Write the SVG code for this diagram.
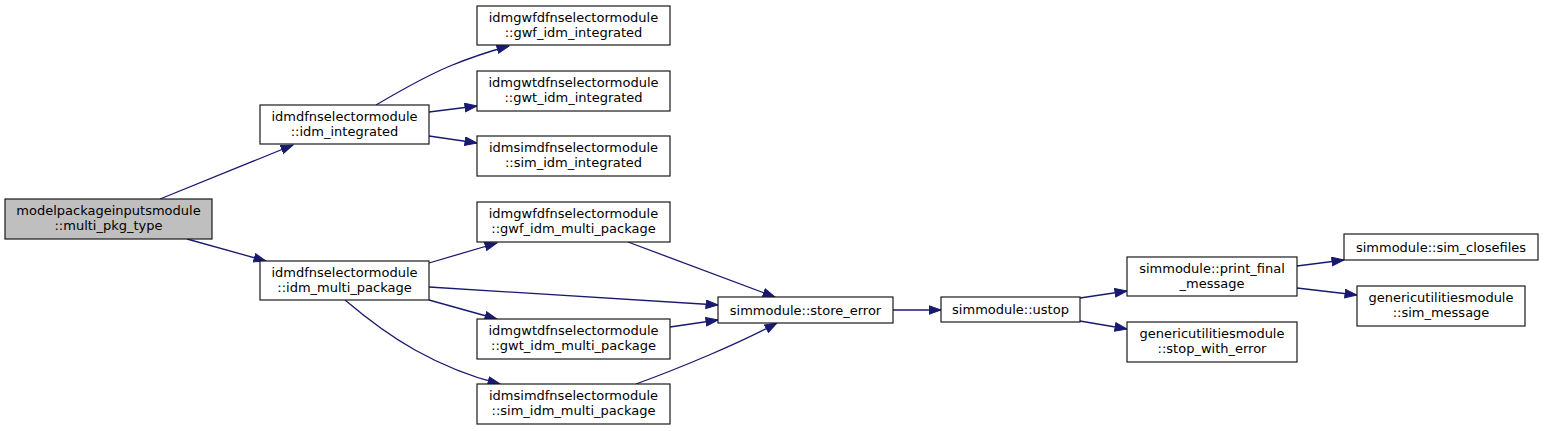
<svg xmlns="http://www.w3.org/2000/svg" width="1544" height="431" viewBox="0 0 1544 431">
<style>
.n rect{fill:#ffffff;stroke:#1a1a1a;stroke-width:1.2}
.n.root rect{fill:#bfbfbf}
.n text{font-family:"DejaVu Sans",sans-serif;font-size:13px;fill:#000000;text-anchor:middle}
.e path{fill:none;stroke:#191970;stroke-width:1.3;marker-end:url(#ah)}
</style>
<defs>
<marker id="ah" markerUnits="userSpaceOnUse" markerWidth="14" markerHeight="11" refX="12.5" refY="4.75" orient="auto">
<path d="M0.5,0.5 L12.5,4.75 L0.5,9 z" fill="#191970" stroke="#191970" stroke-width="1"/>
</marker>
</defs>
<rect width="1544" height="431" fill="#ffffff"/>
<g id="edges" class="e">
<path d="M160,199 L293,145"/>
<path d="M187,239 L266,261"/>
<path d="M376,105 C398,92 424,77 450,66 C467,59 487,52 509,46"/>
<path d="M429,112 L477,106"/>
<path d="M429,136 L477,143"/>
<path d="M429,263 L497,243"/>
<path d="M429,287 L718,305"/>
<path d="M429,300 L497,319"/>
<path d="M345,300 C365,317 390,336 415,350 C440,364 468,376 500,384"/>
<path d="M628,242 L775,297"/>
<path d="M670,327 L718,320"/>
<path d="M636,384 C680,368 740,343 777,323"/>
<path d="M893,310 L941,310"/>
<path d="M1080,298 L1127,291"/>
<path d="M1080,321 L1127,329"/>
<path d="M1297,266 L1344,260"/>
<path d="M1297,288 L1357,295"/>
</g>
<g id="n_root" class="n root"><rect x="5" y="199" width="207" height="40"/><text x="108.5" y="215">modelpackageinputsmodule</text><text x="108.5" y="230">::multi_pkg_type</text></g>
<g id="n_idm_integrated" class="n"><rect x="260" y="105" width="169" height="39"/><text x="344.5" y="120.5">idmdfnselectormodule</text><text x="344.5" y="135.5">::idm_integrated</text></g>
<g id="n_idm_multi_package" class="n"><rect x="260" y="261" width="169" height="39"/><text x="344.5" y="276.5">idmdfnselectormodule</text><text x="344.5" y="291.5">::idm_multi_package</text></g>
<g id="n_gwf_idm_integrated" class="n"><rect x="477" y="6" width="193" height="39"/><text x="573.5" y="21.5">idmgwfdfnselectormodule</text><text x="573.5" y="36.5">::gwf_idm_integrated</text></g>
<g id="n_gwt_idm_integrated" class="n"><rect x="477" y="71" width="193" height="40"/><text x="573.5" y="87">idmgwtdfnselectormodule</text><text x="573.5" y="102">::gwt_idm_integrated</text></g>
<g id="n_sim_idm_integrated" class="n"><rect x="477" y="136" width="193" height="40"/><text x="573.5" y="152">idmsimdfnselectormodule</text><text x="573.5" y="167">::sim_idm_integrated</text></g>
<g id="n_gwf_idm_multi_package" class="n"><rect x="477" y="202" width="193" height="40"/><text x="573.5" y="218">idmgwfdfnselectormodule</text><text x="573.5" y="233">::gwf_idm_multi_package</text></g>
<g id="n_gwt_idm_multi_package" class="n"><rect x="477" y="319" width="193" height="40"/><text x="573.5" y="335">idmgwtdfnselectormodule</text><text x="573.5" y="350">::gwt_idm_multi_package</text></g>
<g id="n_sim_idm_multi_package" class="n"><rect x="477" y="384" width="193" height="40"/><text x="573.5" y="400">idmsimdfnselectormodule</text><text x="573.5" y="415">::sim_idm_multi_package</text></g>
<g id="n_store_error" class="n"><rect x="718" y="297" width="175" height="26"/><text x="805.5" y="314.5">simmodule::store_error</text></g>
<g id="n_ustop" class="n"><rect x="941" y="297" width="139" height="25"/><text x="1010.5" y="314">simmodule::ustop</text></g>
<g id="n_print_final_message" class="n"><rect x="1127" y="257" width="170" height="39"/><text x="1212" y="272.5">simmodule::print_final</text><text x="1212" y="287.5">_message</text></g>
<g id="n_stop_with_error" class="n"><rect x="1127" y="322" width="170" height="40"/><text x="1212" y="338">genericutilitiesmodule</text><text x="1212" y="353">::stop_with_error</text></g>
<g id="n_sim_closefiles" class="n"><rect x="1344" y="234" width="194" height="26"/><text x="1441" y="251.5">simmodule::sim_closefiles</text></g>
<g id="n_sim_message" class="n"><rect x="1357" y="286" width="168" height="40"/><text x="1441" y="302">genericutilitiesmodule</text><text x="1441" y="317">::sim_message</text></g>
</svg>
